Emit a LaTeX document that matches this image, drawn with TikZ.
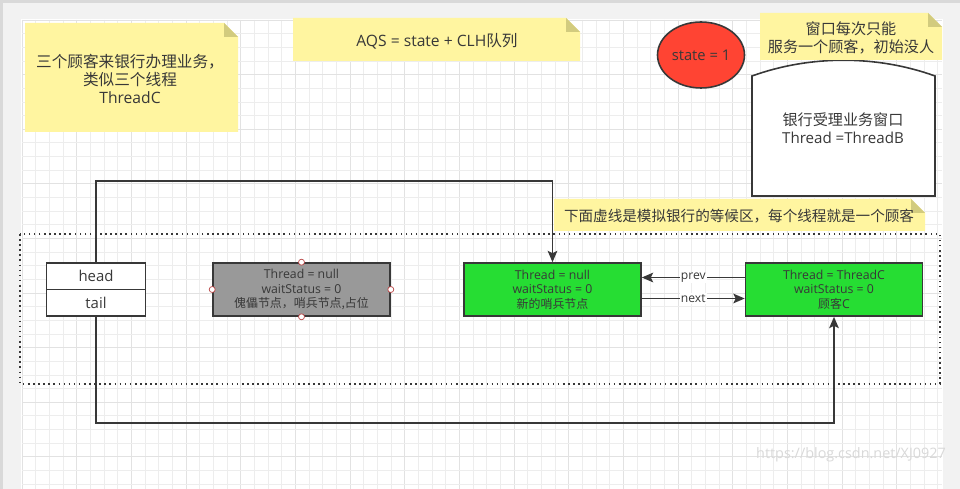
\documentclass[tikz,border=0pt]{standalone}
\usepackage{fontspec}
\setmainfont{Open Sans}
\newfontfamily\cjk{Noto Sans CJK SC}
\usetikzlibrary{arrows.meta,shapes.geometric}
\definecolor{notey}{HTML}{FFF5A0}
\definecolor{foldy}{HTML}{D2CB7E}
\definecolor{redst}{HTML}{FF4433}
\definecolor{greenn}{HTML}{26DD33}
\definecolor{grayn}{HTML}{999999}
\definecolor{txt}{HTML}{383838}
\definecolor{gridc}{HTML}{EDEDED}
\definecolor{gridm}{HTML}{E2E2E2}
\definecolor{bandc}{HTML}{F2F2F2}
\def\pxu{0.02cm}
\tikzset{
  notefill/.style={fill=notey},
  foldfill/.style={fill=foldy},
  notetext/.style={text=txt, align=center, inner sep=0pt, font=\fontsize{8.9pt}{10.4pt}\selectfont},
  qnode/.style={draw=txt, line width=0.9pt, text=txt, align=center, inner sep=0pt,
     minimum width={177*\pxu}, minimum height={53*\pxu}, font=\fontsize{7pt}{8.2pt}\selectfont},
  htbox/.style={draw=txt, line width=0.9pt, fill=white, text=txt, inner sep=0pt,
     minimum width={99*\pxu}, minimum height={26.5*\pxu}, font=\fontsize{8.5pt}{10pt}\selectfont},
  conn/.style={draw=txt, line width=0.9pt},
  arr/.style={conn, -{Stealth[length=6.5pt,width=5.5pt,inset=1.4pt]}},
  lbl/.style={fill=white, text=txt, inner sep=0.6pt, font=\fontsize{6.9pt}{8pt}\selectfont},
  handle/.style={circle, draw=red!45!gray, fill=white, line width=0.4pt, inner sep=0pt, minimum size={6*\pxu}}
}
\begin{document}
\begin{tikzpicture}[x=0.02cm, y=-0.02cm]
\useasboundingbox (0,0) rectangle (960,489);
% background and canvas
\fill[white] (0,0) rectangle (960,489);
\foreach \i in {0,...,67} {
  \pgfmathsetmacro{\gx}{22+\i*13.667}
  \pgfmathtruncatemacro{\mj}{mod(\i,4)}
  \ifnum\mj=0 \draw[gridm, line width=0.5pt] (\gx,20) -- (\gx,489);
  \else \draw[gridc, line width=0.4pt] (\gx,20) -- (\gx,489); \fi
}
\foreach \j in {0,...,34} {
  \pgfmathsetmacro{\gy}{20+\j*13.65}
  \pgfmathtruncatemacro{\mj}{mod(\j,4)}
  \ifnum\mj=0 \draw[gridm, line width=0.5pt] (22,\gy) -- (942,\gy);
  \else \draw[gridc, line width=0.4pt] (22,\gy) -- (942,\gy); \fi
}
\fill[bandc] (0,0) rectangle (960,19);
\fill[bandc] (0,0) rectangle (21,489);
\fill[bandc] (943,0) rectangle (960,489);
\fill[gray!30] (0,0) rectangle (960,3);
\fill[gray!30] (0,0) rectangle (3,489);

% note 1
\fill[notefill] (25,23) -- (224,23) -- (238,37) -- (238,132) -- (25,132) -- cycle;
\fill[foldfill] (224,23) -- (238,37) -- (224,37) -- cycle;
\node[notetext] (n1) at (130,79) {{\cjk 三个顾客来银行办理业务，}\\{\cjk 类似三个线程}\\ThreadC};

% note 2
\fill[notefill] (293,18) -- (566,18) -- (580,32) -- (580,61) -- (293,61) -- cycle;
\fill[foldfill] (566,18) -- (580,32) -- (566,32) -- cycle;
\node[notetext] (n2) at (437,41) {AQS = state + CLH{\cjk 队列}};

% state ellipse
\node[ellipse, draw=txt, line width=0.9pt, fill=redst, text=txt, minimum width={87*\pxu}, minimum height={66*\pxu}, inner sep=0pt, font=\fontsize{8.4pt}{10pt}\selectfont] (st) at (701,55) {state = 1};

% bank window
\draw[draw=txt, line width=0.9pt, fill=white] (752,196) -- (752,76) .. controls (810,55) and (877,55) .. (935,76) -- (935,196) -- cycle;
\node[notetext, font=\fontsize{8.6pt}{10.2pt}\selectfont] (win) at (843,128) {{\cjk 银行受理业务窗口}\\Thread =ThreadB};

% note 3
\fill[notefill] (760,13) -- (928,13) -- (942,27) -- (942,60) -- (760,60) -- cycle;
\fill[foldfill] (928,13) -- (942,27) -- (928,27) -- cycle;
\node[notetext, font=\cjk\fontsize{8.6pt}{10.2pt}\selectfont] (n3) at (851,38) {窗口每次只能\\服务一个顾客，初始没人};

% note 4
\fill[notefill] (554,199) -- (911,199) -- (925,213) -- (925,231) -- (554,231) -- cycle;
\fill[foldfill] (911,199) -- (925,213) -- (911,213) -- cycle;
\node[notetext, font=\cjk\fontsize{8.3pt}{10pt}\selectfont] (n4) at (739,216) {下面虚线是模拟银行的等候区，每个线程就是一个顾客};

% waiting area
\draw[draw=txt, line width=0.9pt, dotted] (20,234) rectangle (940,384);

% head / tail
\node[htbox] (head) at (96,276.25) {head};
\node[htbox] (tail) at (96,302.75) {tail};

% queue nodes
\node[qnode, fill=grayn] (g0) at (301.5,289.5) {Thread = null\\waitStatus = 0\\{\cjk\fontsize{6.8pt}{8.2pt}\selectfont 傀儡节点，哨兵节点,占位}};
\node[qnode, fill=greenn] (g1) at (552.5,289.5) {Thread = null\\waitStatus = 0\\{\cjk\fontsize{6.8pt}{8.2pt}\selectfont 新的哨兵节点}};
\node[qnode, fill=greenn] (g2) at (834,289.5) {Thread = ThreadC\\waitStatus = 0\\{\cjk\fontsize{6.8pt}{8.2pt}\selectfont 顾客}C};

% selection handles on g0
\node[handle] (h1) at (g0.west) {};
\node[handle] (h2) at (g0.east) {};
\node[handle] (h3) at (g0.north) {};
\node[handle] (h4) at (g0.south) {};

% connectors
\coordinate (hc) at (96,181);
\coordinate (tc) at (96,423);
\draw[arr] (head.north) -- (hc) -| (g1.north);
\draw[arr] (tail.south) -- (tc) -| (g2.south);
\draw[arr] ([yshift=12*\pxu]g2.west) -- node[lbl] {prev} ([yshift=12*\pxu]g1.east);
\draw[arr] ([yshift=-9*\pxu]g1.east) -- node[lbl] {next} ([yshift=-9*\pxu]g2.west);

% watermark
\node[text=gray!30, inner sep=0pt, font=\fontsize{8.2pt}{10pt}\selectfont] (wm) at (851,455) {https://blog.csdn.net/XJ0927};
\end{tikzpicture}
\end{document}
